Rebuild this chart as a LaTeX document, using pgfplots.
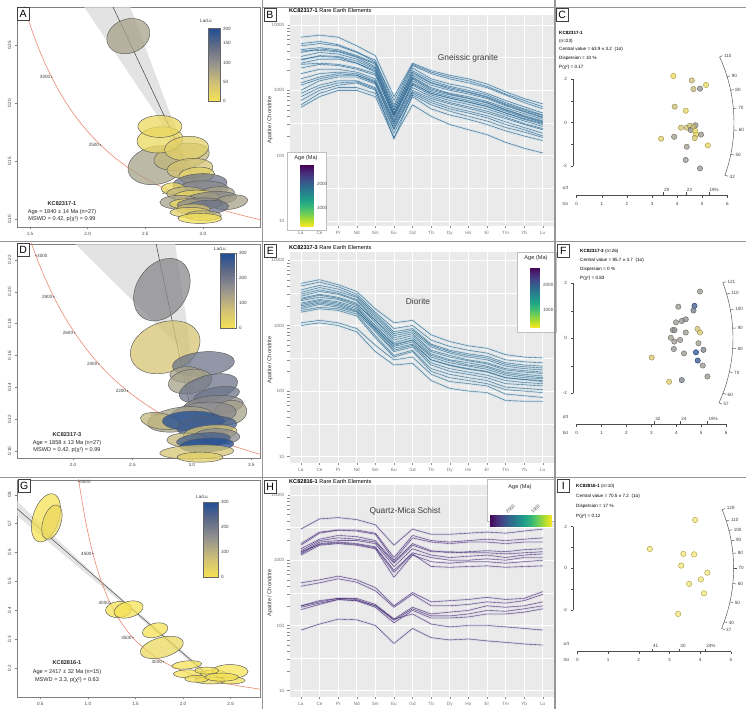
\documentclass[border=0pt]{standalone}
\usepackage{fontspec}
\setmainfont{Liberation Sans}
\usepackage{pgfplots}
\usepackage{pgfplotstable}
\pgfplotsset{compat=1.18}
\usetikzlibrary{shapes.geometric}
\pgfkeys{/pgf/number format/assume math mode=true, /pgf/number format/1000 sep={}}
\newcommand\fa{\fontsize{4.6}{5.2}\selectfont}
\newcommand\fb{\fontsize{5.6}{6.6}\selectfont}
\newcommand\fc{\fontsize{8.4}{9.5}\selectfont}
\newcommand\fl{\fontsize{10.5}{11}\selectfont}
\definecolor{conc}{RGB}{236,135,115}
\definecolor{reeB}{RGB}{45,95,135}
\definecolor{reeE}{RGB}{50,100,130}
\definecolor{reeH}{RGB}{72,45,112}
\definecolor{ribbon}{RGB}{140,195,225}
\definecolor{ribbonH}{RGB}{175,165,210}
\definecolor{ggbg}{RGB}{234,234,234}
\definecolor{sep}{RGB}{150,150,150}
\definecolor{txt}{RGB}{60,60,60}
\definecolor{e0}{RGB}{245,226,85}
\definecolor{e1}{RGB}{235,216,94}
\definecolor{e2}{RGB}{226,208,103}
\definecolor{e3}{RGB}{213,196,114}
\definecolor{e4}{RGB}{193,182,123}
\definecolor{e5}{RGB}{166,161,136}
\definecolor{e6}{RGB}{138,137,140}
\definecolor{e7}{RGB}{108,116,137}
\definecolor{e8}{RGB}{68,95,143}
\definecolor{e9}{RGB}{32,78,150}
\pgfplotsset{
 colormap={ydb}{rgb255=(245,226,85) rgb255=(208,192,118) rgb255=(152,150,142) rgb255=(98,108,135) rgb255=(32,78,150)},
 colormap={rviridis}{rgb255=(253,231,37) rgb255=(180,222,44) rgb255=(109,205,89) rgb255=(53,183,121) rgb255=(31,158,137) rgb255=(38,130,142) rgb255=(49,104,142) rgb255=(62,74,137) rgb255=(72,40,120) rgb255=(68,1,84)},
 tw/.style={scale only axis, anchor=south west, clip=true, axis line style={black!50, line width=0.4pt},
   tick style={black!50, line width=0.4pt}, tick align=outside, major tick length=2.2pt, tick pos=left,
   ticklabel style={font=\fa, text=black!75}, scaled ticks=false,
   yticklabel style={rotate=90, anchor=south},
   colormap name=ydb, point meta min=0, point meta max=300,
   xticklabel style={/pgf/number format/fixed, /pgf/number format/zerofill, /pgf/number format/precision=1},
   yticklabel style={/pgf/number format/fixed, /pgf/number format/zerofill, /pgf/number format/precision=2}},
 ell/.style={only marks, mark=*, mark size=0.01pt, mark options={draw=none, fill=none},
   point meta=explicit symbolic,
   visualization depends on={\thisrow{a} \as \ellA},
   visualization depends on={\thisrow{b} \as \ellB},
   visualization depends on={\thisrow{r} \as \ellR},
   nodes near coords={},
   every node near coord/.style={ellipse, anchor=center, inner sep=0pt, outer sep=0pt,
      minimum width={2*\ellA pt}, minimum height={2*\ellB pt}, rotate=\ellR,
      draw=black!65, line width=0.45pt, fill=\pgfplotspointmeta, fill opacity=0.75}},
 agelab/.style={only marks, mark=*, mark size=0.55pt, color=black!55, point meta=explicit symbolic,
   nodes near coords, every node near coord/.style={anchor=east, font=\fa, text=black!75, inner sep=1.2pt}},
 cbtw/.style={scale only axis, anchor=south west, axis line style={black!60, line width=0.3pt},
   ytick style={draw=none}, yticklabel style={font=\fa, text=black!75, xshift=-1pt}},
 ree/.style={scale only axis, anchor=south west, xmin=-0.6, xmax=13.6, width=264.1pt,
   axis background/.style={fill=ggbg}, axis line style={draw=none},
   xtick={0,...,13}, xticklabels={La,Ce,Pr,Nd,Sm,Eu,Gd,Tb,Dy,Ho,Er,Tm,Yb,Lu},
   ytick={10,100,1000,10000}, yticklabels={10,100,1000,10000},
   extra y ticks={31.62,316.2,3162}, extra y tick labels={},
   extra y tick style={grid=major, major grid style={white, line width=0.35pt}, major tick length=0pt},
   xmajorgrids, ymajorgrids, major grid style={white, line width=0.7pt},
   tick style={black!45, line width=0.4pt}, tick align=outside, major tick length=2pt,
   tick pos=left, ticklabel style={font=\fa, text=black!55}, clip=true},
 ribline/.style={color=#1, line width=2.3pt, opacity=0.3, line join=round},
 reeline/.style={color=#1, line width=0.35pt, line join=round},
 dummy/.style={scale only axis, anchor=south west, at={(0pt,0pt)}, width=1pt, height=1pt, xmin=0, xmax=1, ymin=0, ymax=1,
   axis line style={draw=none}, xtick=\empty, ytick=\empty, colormap name=rviridis},
 cbree/.style={scale only axis, anchor=south west, axis line style={draw=none}, ytick style={draw=none}, xtick style={draw=none},
   yticklabel style={font=\fa, text=black!70}, xticklabel style={font=\fa, text=black!70}},
 rad/.style={hide axis, clip=false, anchor=south west, colormap name=ydb, point meta min=0, point meta max=300},
 radpt/.style={scatter, only marks, mark=*, mark size=2.7pt, point meta=explicit,
   scatter/use mapped color={draw=mapped color!70!black, fill=mapped color, fill opacity=0.75, line width=0.4pt}},
}

\pgfplotstableread{
i L1 L2 L3 L4 L5 L6 L7 L8 L9 L10 L11 L12 L13 L14 L15 L16 L17 L18 L19 L20 L21 L22
0 6500 4800 4200 3800 3300 2600 2500 2200 1800 1500 1200 1000 900 700 600 550 2900 4000 1300 5200 800 3000
1 7000 5200 4500 4300 3800 3000 2600 2500 2100 1800 1500 1400 1200 1000 900 800 3400 4100 1600 5600 1100 3300
2 6500 4800 4200 4000 3600 3000 2500 2400 2100 1900 1700 1600 1400 1200 1100 1000 3300 3900 1800 5000 1300 3200
3 4800 3800 3400 3300 3000 2600 2200 2100 1900 1800 1700 1600 1400 1300 1100 1000 2800 3200 1700 3900 1350 2600
4 3400 2900 2600 2500 2200 2000 1800 1700 1500 1400 1300 1250 1100 1000 900 800 2100 2300 1350 2700 1050 1900
5 800 600 550 500 450 420 380 400 350 330 300 280 260 250 220 190 450 500 320 700 180 420
6 2600 2400 2200 2000 1700 1600 1500 1400 1300 1200 1100 1000 950 900 800 600 1800 1900 1250 2500 850 1550
7 2000 1800 1500 1400 1200 1100 1000 950 900 850 800 750 700 650 520 400 1300 1300 900 1900 600 1050
8 1700 1500 1250 1150 1000 900 850 800 760 700 650 620 560 520 420 300 1100 1050 760 1600 480 880
9 1500 1300 1100 1000 880 800 750 700 660 610 560 530 480 450 360 250 950 930 660 1400 400 760
10 1250 1100 900 850 750 680 640 600 560 520 480 450 410 380 300 210 800 780 570 1150 340 650
11 950 850 700 650 580 540 500 480 450 420 390 370 330 300 240 160 620 600 450 880 270 510
12 750 650 560 520 470 440 400 390 360 340 310 300 270 250 200 130 500 480 370 700 230 410
13 620 520 450 420 380 360 330 320 300 280 260 250 220 200 170 110 410 390 310 560 190 340
}\Btab
\pgfplotstableread{
i L1 L2 L3 L4 L5 L6 L7 L8 L9 L10 L11 L12 L13 L14 L15 L16 L17 L18
0 4400 4000 3500 3000 2800 2600 2400 2200 2000 1800 1700 1600 1100 1000 2500 3200 2100 1900
1 5000 4600 4100 3500 3300 3000 2700 2500 2300 2100 1900 1800 1200 1100 2900 3800 2400 2200
2 4200 3900 3600 3100 3000 2700 2500 2300 2100 1900 1800 1700 1100 1000 2600 3300 2200 2000
3 3300 3000 2800 2500 2400 2200 2000 1900 1700 1600 1500 1400 900 800 2100 2700 1800 1650
4 1800 1600 1500 1300 1200 1100 1000 900 850 800 700 650 500 400 1200 1400 950 900
5 1100 900 800 700 600 550 500 480 420 400 350 330 300 250 650 750 520 450
6 1200 1000 900 800 700 650 600 560 500 470 420 400 330 265 750 850 600 520
7 720 600 520 470 400 370 330 300 270 250 220 200 180 145 420 500 350 300
8 570 480 420 380 330 300 270 245 220 200 180 160 140 110 350 400 290 250
9 490 420 370 330 290 270 240 215 195 180 160 145 130 100 300 350 250 220
10 450 380 340 300 260 240 215 195 175 160 145 130 120 95 270 320 230 200
11 360 300 270 240 210 195 175 160 145 130 115 105 90 72 220 255 185 160
12 330 280 250 220 195 180 160 150 135 125 110 100 85 70 205 235 170 150
13 320 270 240 210 185 170 155 145 130 120 105 95 80 70 195 225 160 140
}\Etab
\pgfplotstableread{
i L1 L2 L3 L4 L5 L6 L7 L8 L9 L10 L11 L12 L13 L14 L15 L16
0 3000 1800 1700 1500 1400 1300 1250 1200 1350 450 400 200 190 175 200 85
1 4300 2700 2600 2100 2000 1900 1800 1700 1750 500 450 230 220 210 240 105
2 4500 2900 2900 2400 2200 2000 1900 1800 1850 570 520 260 250 250 260 125
3 4200 2900 2800 2300 2100 2000 1800 1700 1750 500 460 260 240 240 250 122
4 3500 2600 2500 2000 1900 1800 1600 1500 1550 380 340 210 200 190 200 100
5 1700 1100 1000 950 900 800 700 550 650 200 190 125 120 110 125 53
6 3000 2400 2200 1800 1700 1500 1300 1200 1250 320 300 190 180 170 150 90
7 2500 2000 1900 1400 1350 1200 1100 950 800 230 200 150 140 130 105 65
8 2500 1900 1800 1300 1350 1100 1000 900 780 240 200 160 140 130 95 60
9 2600 2000 1900 1350 1300 1150 1000 950 800 250 210 170 150 135 100 62
10 2700 2100 1900 1400 1300 1200 1050 950 820 270 230 200 170 150 100 58
11 2600 2000 1800 1350 1250 1100 1000 900 780 250 220 190 165 150 95 55
12 2800 2100 1900 1450 1300 1200 1100 950 800 260 240 200 180 160 90 52
13 3000 2200 1900 1500 1350 1250 1100 1000 820 330 300 230 200 180 85 50
}\Htab

\pgfplotstableread{
x y a b r k
2.598 0.1468 29 19 12 e5
2.353 0.2581 22 17 20 e5
2.815 0.1541 28 13 10 e4
2.627 0.1686 23 13 5 e1
2.627 0.1802 22 11 0 e1
2.858 0.1613 22 12 5 e2
2.887 0.1439 23 10 5 e3
2.945 0.1381 18 8 5 e2
2.974 0.1308 27 10 3 e7
3.003 0.1265 25 8 0 e6
3.118 0.1221 18 7 5 e5
2.743 0.1265 12 6 0 e1
2.858 0.1221 20 7 0 e4
2.945 0.1192 23 7 0 e1
3.061 0.1177 27 7 5 e6
3.234 0.1148 18 7 8 e5
2.800 0.1148 20 7 0 e5
2.858 0.1134 17 5 0 e1
2.974 0.1134 23 6 3 e6
3.032 0.1105 22 7 3 e7
2.916 0.1090 17 5 0 e3
2.887 0.1061 20 5 0 e2
3.003 0.1032 18 5 0 e4
2.974 0.1009 22 5 0 e0
}\Aell
\pgfplotstableread{
x y a b r k
2.748 0.2013 34 25 55 e6
2.776 0.1652 36 25 20 e3
3.098 0.1548 31 12 5 e7
2.958 0.1480 17 8 0 e5
2.986 0.1437 22 12 10 e5
3.140 0.1394 30 13 15 e7
3.210 0.1351 23 8 10 e7
3.182 0.1286 30 10 5 e6
3.322 0.1243 17 12 10 e5
3.098 0.1232 33 12 5 e6
2.902 0.1200 33 12 8 e5
2.734 0.1189 20 8 -10 e4
3.014 0.1189 31 10 0 e9
3.126 0.1157 30 10 5 e8
3.154 0.1114 27 8 5 e3
3.210 0.1092 23 8 0 e6
2.958 0.1071 20 7 0 e4
3.098 0.1071 27 7 5 e8
3.126 0.1039 27 7 3 e9
3.042 0.0996 37 7 2 e3
3.070 0.0963 23 5 0 e2
}\Dell
\pgfplotstableread{
x y a b r k
0.559 0.7202 25 13 72 e0
0.622 0.7054 18 9 72 e1
1.322 0.4032 13 8 5 e0
1.427 0.4032 15 8 15 e0
1.706 0.3314 13 7 15 e0
1.776 0.2721 22 10 15 e1
2.038 0.2116 15 4 5 e0
2.056 0.1808 15 4 0 e0
2.318 0.1808 13 4 0 e0
2.493 0.1888 18 7 0 e0
2.493 0.1580 15 3.5 0 e0
2.283 0.1580 15 3.5 0 e1
2.143 0.1637 12 3.5 0 e0
2.248 0.1922 12 3.5 0 e0
2.406 0.1694 17 4 0 e0
}\Gell

\pgfplotstableread{
x y c
3.85 2.15 15
4.58 1.95 80
4.65 1.55 90
4.91 1.57 160
5.15 1.74 25
3.90 0.74 80
4.34 0.55 30
4.15 -0.23 60
4.38 -0.23 70
4.51 -0.14 80
4.73 -0.12 150
4.54 -0.34 160
4.72 -0.38 20
4.75 -0.55 25
4.70 -0.71 60
4.95 -0.55 150
3.36 -0.74 45
3.88 -0.65 140
5.22 -1.05 30
4.38 -1.11 140
4.34 -1.72 150
4.91 -2.11 150
4.65 -0.18 80
}\Crad
\pgfplotstableread{
x y c
4.95 1.70 150
4.08 1.15 150
4.73 1.18 270
4.69 1.01 200
3.99 0.58 150
4.22 0.63 160
4.38 0.69 170
3.86 0.30 150
3.93 0.30 160
4.38 0.21 150
4.85 0.34 70
4.95 0.21 60
3.78 0.02 140
3.92 -0.12 150
4.15 -0.06 150
4.89 -0.18 140
3.90 -0.39 160
4.31 -0.55 150
4.79 -0.51 290
5.09 -0.42 190
3.01 -0.70 60
4.86 -0.81 280
5.06 -0.99 150
5.25 -1.39 150
4.22 -1.52 190
3.71 -1.58 50
}\Frad
\pgfplotstableread{
x y c
3.83 2.32 10
2.36 0.93 10
3.45 0.69 10
3.80 0.67 10
3.38 0.13 10
4.23 -0.21 10
4.02 -0.53 10
3.64 -0.75 10
4.12 -1.20 10
3.28 -2.19 10
}\Irad

\begin{document}
\begin{tikzpicture}
\useasboundingbox (0pt,0pt) rectangle (746pt,709pt);

% ================= A =================
\begin{axis}[tw, at={(17pt,482pt)}, width=243pt, height=220pt,
  xmin=1.387, xmax=3.495, ymin=0.0935, ymax=0.2832,
  xtick={1.5,2,2.5,3,3.5}, ytick={0.10,0.15,0.20,0.25},
  point meta max=190,
  colorbar, colorbar style={cbtw, at={(200pt,608pt)}, width=12pt, height=73pt,
    ytick={0,50,100,150}, extra y ticks={188}, extra y tick labels={200},
    extra y tick style={yticklabel style={font=\fa, text=black!75}, tick style={draw=none}}}]
\addplot[fill=gray!30, draw=none, fill opacity=0.75] coordinates {(1.97,0.2832)(2.37,0.2832)(2.72,0.19)(3.03,0.112)(2.60,0.19)(1.97,0.2832)} -- cycle;
\addplot[black!75, line width=0.5pt] coordinates {(2.22,0.2832)(3.03,0.112)};
\addplot[conc, line width=0.6pt, smooth] coordinates {(1.3869,0.3058)(1.4398,0.2868)(1.4961,0.2690)(1.5557,0.2524)(1.6192,0.2370)(1.6874,0.2227)(1.7603,0.2093)(1.8383,0.1968)(1.9223,0.1852)(2.0128,0.1744)(2.1108,0.1643)(2.2170,0.1548)(2.3322,0.1460)(2.4585,0.1378)(2.5967,0.1302)(2.7490,0.1230)(2.9173,0.1163)(3.1044,0.1100)(3.3139,0.1042)(3.5496,0.0987)(3.8170,0.0936)};
\addplot[agelab] coordinates {(1.6874,0.2227)[3000] (2.1108,0.1643)[2500] (2.7490,0.1230)[2000]};
\addplot[ell] table[x=x, y=y, meta=k] {\Aell};
\end{axis}

% ================= D =================
\begin{axis}[tw, at={(17pt,251pt)}, width=243pt, height=214pt,
  xmin=1.529, xmax=3.574, ymin=0.0958, ymax=0.2299,
  xtick={2,2.5,3,3.5}, ytick={0.10,0.12,0.14,0.16,0.18,0.20,0.22},
  colorbar, colorbar style={cbtw, at={(212pt,381pt)}, width=16pt, height=75pt, ytick={0,100,200,300}}]
\addplot[fill=gray!30, draw=none, fill opacity=0.75] coordinates {(2.02,0.2299)(2.86,0.2299)(2.97,0.175)(3.05,0.112)(2.90,0.165)(2.02,0.2299)} -- cycle;
\addplot[black!75, line width=0.5pt] coordinates {(2.70,0.2299)(3.03,0.112)};
\addplot[conc, line width=0.6pt, smooth] coordinates {(1.3869,0.3058)(1.4398,0.2868)(1.4961,0.2690)(1.5557,0.2524)(1.6192,0.2370)(1.6874,0.2227)(1.7603,0.2093)(1.8383,0.1968)(1.9223,0.1852)(2.0128,0.1744)(2.1108,0.1643)(2.2170,0.1548)(2.3322,0.1460)(2.4585,0.1378)(2.5967,0.1302)(2.7490,0.1230)(2.9173,0.1163)(3.1044,0.1100)(3.3139,0.1042)(3.5496,0.0987)(3.8170,0.0936)};
\addplot[agelab] coordinates {(1.8383,0.1968)[2800] (2.0128,0.1744)[2600] (2.2170,0.1548)[2400] (2.4585,0.1378)[2200] (2.7490,0.1230)[2000]};
\addplot[agelab, every node near coord/.style={anchor=west, font=\fa, text=black!75, inner sep=1.2pt}] coordinates {(1.6874,0.2227)[3000]};
\addplot[ell] table[x=x, y=y, meta=k] {\Dell};
\end{axis}

% ================= G =================
\begin{axis}[tw, at={(17pt,12pt)}, width=243pt, height=217pt,
  xmin=0.255, xmax=2.808, ymin=0.1008, ymax=0.851,
  xtick={0.5,1,1.5,2,2.5}, ytick={0.2,0.3,0.4,0.5,0.6,0.7,0.8},
  yticklabel style={/pgf/number format/precision=1},
  colorbar, colorbar style={cbtw, at={(195pt,132pt)}, width=15pt, height=75pt, ytick={0,100,200,300}}]
\addplot[fill=gray!30, draw=none, fill opacity=0.75] coordinates {(0.255,0.778)(1.0,0.545)(1.4,0.428)(2.25,0.188)(2.25,0.172)(1.4,0.415)(1.0,0.522)(0.255,0.728)} -- cycle;
\addplot[black!70, line width=0.5pt] coordinates {(0.255,0.752)(2.25,0.18)};
\addplot[conc, line width=0.6pt, smooth] coordinates {(0.856,0.974)(0.906,0.845)(0.975,0.7095)(1.052,0.5967)(1.138,0.503)(1.235,0.4249)(1.3225,0.3721)(1.420,0.3263)(1.473,0.3058)(1.529,0.2868)(1.652,0.2524)(1.792,0.2227)(1.952,0.1968)(2.138,0.1744)(2.242,0.1643)(2.354,0.1548)(2.611,0.1378)(2.919,0.1230)};
\addplot[agelab] coordinates {(1.052,0.5967)[4500] (1.235,0.4249)[4000] (1.473,0.3058)[3500] (1.792,0.2227)[3000] (2.242,0.1643)[2500]};
\addplot[agelab, every node near coord/.style={anchor=west, font=\fa, text=black!75, inner sep=1.2pt}] coordinates {(0.906,0.845)[5000]};
\addplot[ell] table[x=x, y=y, meta=k] {\Gell};
\end{axis}

% ================= B =================
\begin{axis}[ree, ymode=log, at={(289.8pt,483pt)}, height=211pt, ymin=8.39, ymax=14230]
\pgfplotsinvokeforeach{1,...,22}{\addplot[ribline=ribbon] table[x=i, y=L#1] {\Btab};}
\pgfplotsinvokeforeach{1,...,22}{\addplot[reeline=reeB] table[x=i, y=L#1] {\Btab};}
\end{axis}

% ================= E =================
\begin{axis}[ree, ymode=log, at={(289.8pt,246pt)}, height=211pt, ymin=8.0, ymax=13240]
\pgfplotsinvokeforeach{1,...,18}{\addplot[ribline=ribbon] table[x=i, y=L#1] {\Etab};}
\pgfplotsinvokeforeach{1,...,18}{\addplot[reeline=reeE] table[x=i, y=L#1] {\Etab};}
\end{axis}

% ================= H =================
\begin{axis}[ree, ymode=log, at={(289.8pt,12pt)}, height=212pt, ymin=8.0, ymax=14230]
\pgfplotsinvokeforeach{1,...,16}{\addplot[ribline=ribbonH] table[x=i, y=L#1] {\Htab};}
\pgfplotsinvokeforeach{1,...,16}{\addplot[reeline=reeH] table[x=i, y=L#1] {\Htab};}
\end{axis}

% ---------- REE legend boxes and age colorbars ----------
\begin{scope}[x=1pt, y=1pt]
 \draw[black!25, line width=0.4pt, fill=white] (287,479) rectangle (326,557);
 \node[font=\fb, text=black!85] at (306,551) {Age (Ma)};
 \draw[black!25, line width=0.4pt, fill=white] (517,377) rectangle (556,457);
 \node[font=\fb, text=black!85] at (536,451) {Age (Ma)};
 \draw[black!25, line width=0.4pt, fill=white] (487,188) rectangle (554,230);
 \node[font=\fb, text=black!85] at (520,222) {Age (Ma)};
\end{scope}
\begin{axis}[dummy, point meta min=208, point meta max=2790,
  colorbar, colorbar style={cbree, at={(292pt,482pt)}, width=13pt, height=62pt, ytick={1000,2000}}]
\addplot[draw=none] coordinates {(0.5,0.5)};
\end{axis}
\begin{axis}[dummy, point meta min=280, point meta max=2720,
  colorbar, colorbar style={cbree, at={(522pt,381pt)}, width=9pt, height=61pt, ytick={1000,2000}}]
\addplot[draw=none] coordinates {(0.5,0.5)};
\end{axis}
\begin{axis}[dummy, point meta min=240, point meta max=2760,
  colorbar horizontal, colorbar style={cbree, at={(489pt,191pt)}, width=63pt, height=11pt,
    x dir=reverse, xtick={1000,2000}, xtick pos=upper, xticklabel pos=upper,
    xticklabel style={rotate=45, anchor=south west, inner sep=1pt}}]
\addplot[draw=none] coordinates {(0.5,0.5)};
\end{axis}

% ================= C / F / I radial =================
\begin{axis}[rad, at={(551.6pt,488.8pt)}, x=25.11pt, y=21.67pt, xmin=-1, xmax=7, ymin=-4.5, ymax=4.5]
\addplot[radpt] table[x=x, y=y, meta=c] {\Crad};
\end{axis}
\begin{axis}[rad, at={(551.8pt,260.7pt)}, x=24.9pt, y=27.5pt, xmin=-1, xmax=7, ymin=-4, ymax=4]
\addplot[radpt] table[x=x, y=y, meta=c] {\Frad};
\end{axis}
\begin{axis}[rad, at={(546.6pt,36.55pt)}, x=30.73pt, y=20.83pt, xmin=-1, xmax=6, ymin=-5, ymax=4]
\addplot[radpt, scatter/use mapped color={draw=mapped color!75!black, fill=mapped color!70!white, fill opacity=0.8, line width=0.5pt}] table[x=x, y=y, meta=c] {\Irad};
\end{axis}

% ---------- radial decorations ----------
\begin{scope}[shift={(576.7pt,586.3pt)}, x=25.11pt, y=21.67pt, draw=black!70, line width=0.45pt, every node/.style={font=\fa, text=black!75}]
 \draw (-0.13,-2) -- (-0.13,2);
 \foreach \v in {-2,-1,0,1,2} \draw (-0.13,\v) -- ++(-2.5pt,0pt);
 \node[anchor=east] at (-0.25,2) {2}; \node[anchor=east] at (-0.25,0) {0}; \node[anchor=east] at (-0.25,-2) {-2};
 \draw (0,-3.34) -- (6,-3.34);
 \foreach \v in {0,...,6} {\draw (\v,-3.34) -- ++(0pt,-2.5pt); \node[anchor=north] at (\v,-3.5) {\v};}
 \foreach \v/\l in {3.45/29, 4.35/23, 5.26/19\%} {\draw (\v,-3.34) -- ++(0pt,3pt); \node[anchor=south west, inner sep=0.6pt] at (\v,-3.2) {\l};}
 \node[anchor=east] at (-0.2,-3.0) {σ/t}; \node[anchor=east] at (-0.2,-3.75) {t/σ};
 \draw (-19.5:157.3pt) arc[start angle=-19.5, end angle=24.7, radius=157.3pt];
 \foreach \a/\l in {24.7/110,17/90,11.9/80,5.2/70,-2.7/60,-11.6/50,-19.5/42} {\draw (\a:157.3pt) -- (\a:160.5pt); \node[anchor=west, inner sep=1pt] at (\a:161pt) {\l};}
\end{scope}
\begin{scope}[shift={(576.7pt,370.7pt)}, x=24.9pt, y=27.5pt, draw=black!70, line width=0.45pt, every node/.style={font=\fa, text=black!75}]
 \draw (-0.13,-2) -- (-0.13,2);
 \foreach \v in {-2,-1,0,1,2} \draw (-0.13,\v) -- ++(-2.5pt,0pt);
 \node[anchor=east] at (-0.25,2) {2}; \node[anchor=east] at (-0.25,0) {0}; \node[anchor=east] at (-0.25,-2) {-2};
 \draw (0,-3.13) -- (6,-3.13);
 \foreach \v in {0,...,6} {\draw (\v,-3.13) -- ++(0pt,-2.5pt); \node[anchor=north] at (\v,-3.27) {\v};}
 \foreach \v/\l in {3.125/32, 4.17/24, 5.26/19\%} {\draw (\v,-3.13) -- ++(0pt,3pt); \node[anchor=south west, inner sep=0.6pt] at (\v,-3.02) {\l};}
 \node[anchor=east] at (-0.2,-2.85) {σ/t}; \node[anchor=east] at (-0.2,-3.45) {t/σ};
 \draw (-24.4:156.3pt) arc[start angle=-24.4, end angle=20.8, radius=156.3pt];
 \foreach \a/\l in {20.8/121,16.4/110,10.4/100,3.7/90,-3.7/80,-12.4/70,-20.6/60,-24.4/57} {\draw (\a:156.3pt) -- (\a:159.5pt); \node[anchor=west, inner sep=1pt] at (\a:160pt) {\l};}
\end{scope}
\begin{scope}[shift={(577.3pt,140.7pt)}, x=30.73pt, y=20.83pt, draw=black!70, line width=0.45pt, every node/.style={font=\fa, text=black!75}]
 \draw (-0.13,-2) -- (-0.13,2);
 \foreach \v in {-2,-1,0,1,2} \draw (-0.13,\v) -- ++(-2.5pt,0pt);
 \node[anchor=east] at (-0.22,2) {2}; \node[anchor=east] at (-0.22,0) {0}; \node[anchor=east] at (-0.22,-2) {-2};
 \draw (0,-4.0) -- (5,-4.0);
 \foreach \v in {0,...,5} {\draw (\v,-4.0) -- ++(0pt,-2.5pt); \node[anchor=north] at (\v,-4.17) {\v};}
 \foreach \v/\l in {2.44/41, 3.33/30, 4.17/24\%} {\draw (\v,-4.0) -- ++(0pt,3pt); \node[anchor=south west, inner sep=0.6pt] at (\v,-3.85) {\l};}
 \node[anchor=east] at (-0.15,-3.65) {σ/t}; \node[anchor=east] at (-0.15,-4.4) {t/σ};
 \draw (-22.6:156.3pt) arc[start angle=-22.6, end angle=22.0, radius=156.3pt];
 \foreach \a/\l in {22/128,17.6/110,14/100,10.1/90,5.5/80,0/70,-5.6/60,-12.4/50,-20/40,-22.6/37} {\draw (\a:156.3pt) -- (\a:159.5pt); \node[anchor=west, inner sep=1pt] at (\a:160pt) {\l};}
\end{scope}

% ---------- text, separators ----------
\begin{scope}[x=1pt, y=1pt]
 \draw[sep, line width=1.2pt] (262.5,0) -- (262.5,709);
 \draw[sep, line width=1.2pt] (555,0) -- (555,709);
 \draw[sep, line width=1.2pt] (0,467.5) -- (746,467.5);
 \draw[sep, line width=1.2pt] (0,231.5) -- (746,231.5);
 \draw[sep, line width=0.6pt] (262.5,702) -- (746,702);
 \foreach \px/\py/\l in {17/702/A, 263.5/701/B, 556/701/C, 17/466/D, 264/465/E, 557/465/F, 18/230/G, 264/229/H, 557/230/I}
   \node[draw=black!75, line width=0.5pt, fill=white, inner sep=1pt, minimum width=12pt, minimum height=13pt, anchor=north west, font=\fl] at (\px,\py) {\l};
 \node[font=\fb, text=black!85] at (62,505) {\textbf{KC82317-1}};
 \node[font=\fb, text=black!85] at (62,497) {Age = 1840 ± 14 Ma (n=27)};
 \node[font=\fb, text=black!85] at (62,489.5) {MSWD = 0.42, p(χ²) = 0.99};
 \node[font=\fb, text=black!85] at (67,274) {\textbf{KC82317-3}};
 \node[font=\fb, text=black!85] at (67,266.3) {Age = 1858 ± 13 Ma (n=27)};
 \node[font=\fb, text=black!85] at (67,259) {MSWD = 0.42, p(χ²) = 0.99};
 \node[font=\fb, text=black!85] at (67,46.3) {\textbf{KC82816-1}};
 \node[font=\fb, text=black!85] at (67,37.3) {Age = 2417 ± 32 Ma (n=15)};
 \node[font=\fb, text=black!85] at (67,29) {MSWD = 3.3, p(χ²) = 0.63};
 \node[font=\fa, text=black!80] at (206,688) {La/Lu};
 \node[font=\fa, text=black!80] at (220,460) {La/Lu};
 \node[font=\fa, text=black!80] at (202,212) {La/Lu};
 \node[font=\fb, anchor=west, inner sep=0] at (289,698) {\textbf{KC82317-1} Rare Earth Elements};
 \node[font=\fb, anchor=west, inner sep=0] at (289,461) {\textbf{KC82317-3} Rare Earth Elements};
 \node[font=\fb, anchor=west, inner sep=0] at (289,227) {\textbf{KC82816-1} Rare Earth Elements};
 \node[font=\fb, rotate=90, text=black!80] at (270,589) {Apatite / Chondrite};
 \node[font=\fb, rotate=90, text=black!80] at (270,349) {Apatite / Chondrite};
 \node[font=\fb, rotate=90, text=black!80] at (270,116) {Apatite / Chondrite};
 \node[font=\fc, text=txt] at (468,651) {Gneissic granite};
 \node[font=\fc, text=txt] at (418,407) {Diorite};
 \node[font=\fc, text=txt] at (405,198) {Quartz-Mica Schist};
 \node[font=\fa, anchor=west, inner sep=0] at (559,676) {\textbf{KC82317-1}};
 \node[font=\fa, anchor=west, inner sep=0] at (559,668) {(n=23)};
 \node[font=\fa, anchor=west, inner sep=0] at (559,660) {Central value = 63.9 ± 3.2 \ (1σ)};
 \node[font=\fa, anchor=west, inner sep=0] at (559,651) {Dispersion = 10 \%};
 \node[font=\fa, anchor=west, inner sep=0] at (559,642) {P(χ²) = 0.17};
 \node[font=\fa, anchor=west, inner sep=0] at (580,458) {\textbf{KC82317-3} (n=26)};
 \node[font=\fa, anchor=west, inner sep=0] at (580,449) {Central value = 85.7 ± 3.7 \ (1σ)};
 \node[font=\fa, anchor=west, inner sep=0] at (580,440) {Dispersion = 0 \%};
 \node[font=\fa, anchor=west, inner sep=0] at (580,431) {P(χ²) = 0.83};
 \node[font=\fa, anchor=west, inner sep=0] at (576,223) {\textbf{KC82816-1} (n=10)};
 \node[font=\fa, anchor=west, inner sep=0] at (576,213) {Central value = 70.5 ± 7.2 \ (1σ)};
 \node[font=\fa, anchor=west, inner sep=0] at (576,203) {Dispersion = 17 \%};
 \node[font=\fa, anchor=west, inner sep=0] at (576,193) {P(χ²) = 0.12};
\end{scope}
\end{tikzpicture}
\end{document}
